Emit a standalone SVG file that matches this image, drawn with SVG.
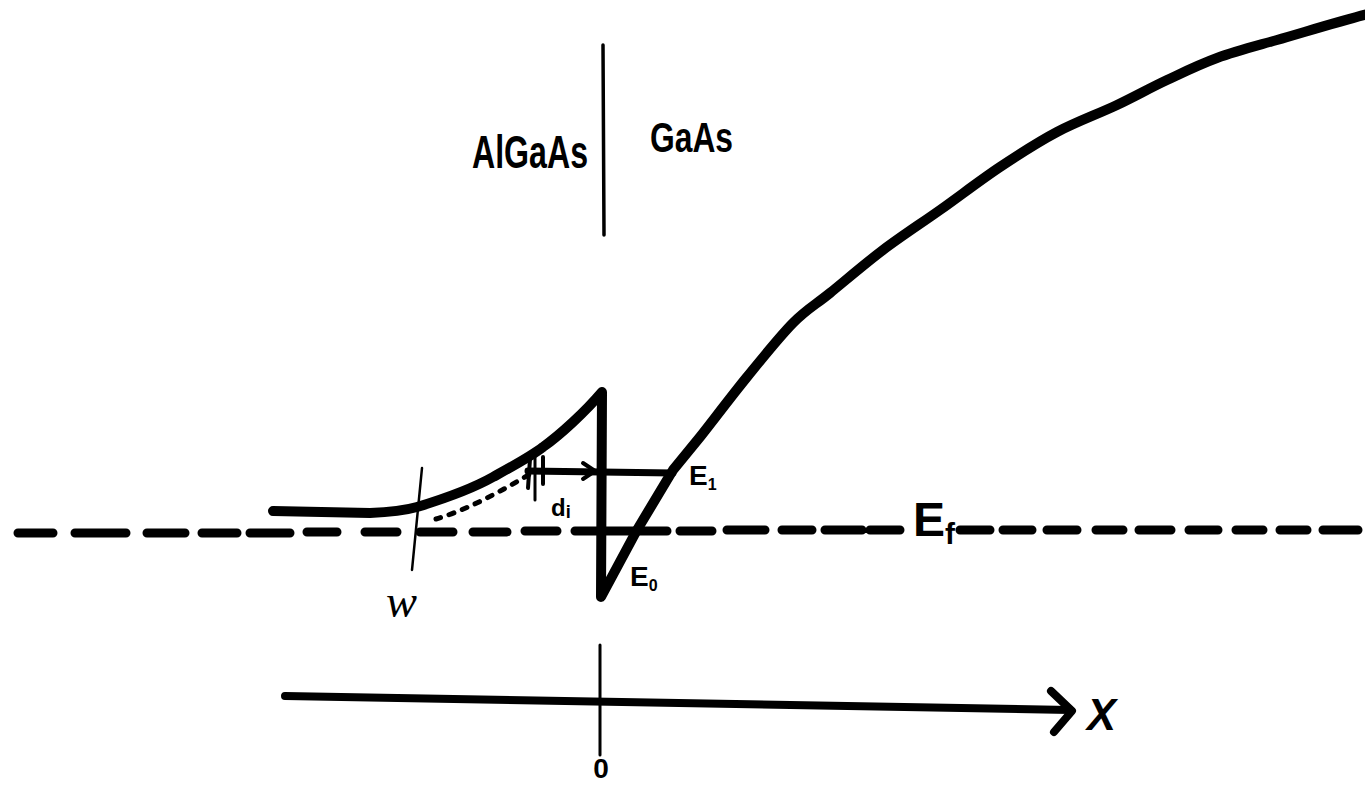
<svg xmlns="http://www.w3.org/2000/svg" width="1365" height="786" viewBox="0 0 1365 786">
<style>
.ink{fill:none;stroke:#000;stroke-linecap:round;stroke-linejoin:round}
.hand{font-family:"Liberation Sans",Arial,sans-serif;font-weight:bold;fill:#000}
</style>
<rect width="1365" height="786" fill="#fff"/>
<g id="interface">
<path class="ink" stroke-width="3.5" d="M603 45 L604 235"/>
<text class="hand" x="472" y="168" font-size="46" textLength="116" lengthAdjust="spacingAndGlyphs">AlGaAs</text>
<text class="hand" x="650" y="152" font-size="42" textLength="83" lengthAdjust="spacingAndGlyphs">GaAs</text>
</g>
<g id="fermi-level">
<path class="ink" stroke-width="9" d="M18 533 L53 533 M75 533 L126 533 M147 533 L185 533 M202 533 L237 533 M250 533 L290 533 M307 532 L337 532 M365 532 L397 532 M420 532 L453 532 M473 532 L507 532 M525 531 L557 531 M575 531 L667 531 M680 531 L712 531 M727 530 L765 530 M782 530 L812 530 M825 530 L862 530 M870 530 L900 530 M960 530 L990 530 M1003 530 L1032 530 M1047 530 L1077 530 M1096 530 L1123 530 M1139 530 L1171 530 M1189 530 L1218 530 M1236 530 L1263 530 M1280 530 L1307 530 M1323 530 L1358 530"/>
<text class="hand" x="913" y="536" font-size="48">E<tspan font-size="30" dy="8">f</tspan></text>
</g>
<g id="band">
<path class="ink" stroke-width="10" d="M273 511 L370 513 C395 512 410 509 417 507 C440 500 470 490 493 477 C515 465 530 457 543 447 C560 435 585 412 602 392 L601 597 L637 530 L673 470 L700 437 C712.3 421.5 731.5 396 747 377 C762.5 358 779.2 337 793 323 C806.8 309 815 305.2 830 293 C845 280.8 864.7 263.8 883 250 C901.3 236.2 920.5 223.8 940 210 C959.5 196.2 980.5 180 1000 167 C1019.5 154 1037.5 142.3 1057 132 C1076.5 121.7 1098.7 113.7 1117 105 C1135.3 96.3 1150.3 87.8 1167 80 C1183.7 72.2 1198.7 64.7 1217 58 C1235.3 51.3 1252.3 47 1277 40 C1301.7 33 1340 21 1368 14"/>
<path class="ink" stroke-width="5" stroke-dasharray="5 9" d="M436 519 C460 512 490 498 530 474"/>
<path class="ink" stroke-width="2.5" d="M422 468 L412 570"/>
<path class="ink" stroke-width="3" d="M535 456 L535 500"/>
<text x="386" y="617" font-family="Liberation Serif,serif" font-style="italic" font-size="46" textLength="31" lengthAdjust="spacingAndGlyphs">w</text>
</g>
<g id="levels">
<path class="ink" stroke-width="7" d="M528 471 L673 473"/>
<path class="ink" stroke-width="4" d="M530 459 L528 488 M543 457 L543 484 M583 463 L595 471 L583 479"/>
<text class="hand" x="551" y="516" font-size="24">d<tspan font-size="18" dy="2">i</tspan></text>
<text class="hand" x="689" y="485" font-size="28">E<tspan font-size="16" dy="5">1</tspan></text>
<text class="hand" x="630" y="586" font-size="28">E<tspan font-size="16" dy="5">0</tspan></text>
</g>
<g id="axis">
<path class="ink" stroke-width="8" d="M285 696 L1070 710"/>
<path class="ink" stroke-width="8" d="M1051 691 L1072 711 L1054 732"/>
<path class="ink" stroke-width="3" d="M600 645 L600 755"/>
<text class="hand" x="1087" y="730" font-size="44" font-style="italic" textLength="29" lengthAdjust="spacingAndGlyphs">X</text>
<text class="hand" x="601" y="778" font-size="28" text-anchor="middle">0</text>
</g>
</svg>
